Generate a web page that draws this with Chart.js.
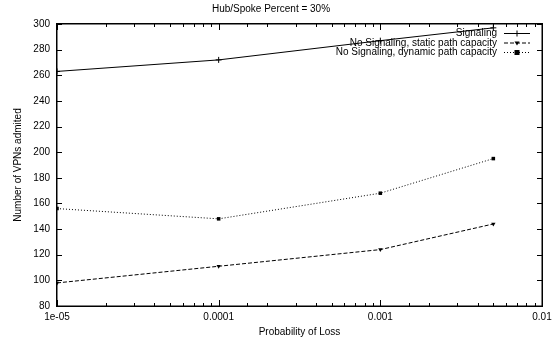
<!DOCTYPE html>
<html>
<head>
<meta charset="utf-8">
<script src="https://cdn.jsdelivr.net/npm/chart.js@4/dist/chart.umd.min.js"></script>
<style>
    body { margin: 0; background: #fff; }
</style>
</head>
<body>
<canvas id="vpnAdmitted" width="559" height="341"></canvas>
<script>
// Loss probabilities (x) and admitted VPN counts per scheme
var lossProb = [0.00001, 0.0001, 0.001, 0.005];
var signaling = [263, 272, 287, 297];
var staticCap = [98, 111, 124, 144];
var dynamicCap = [156, 148, 168, 195];
var seriesNames = ["Signaling", "No Signaling, static path capacity", "No Signaling, dynamic path capacity"];
var xTickValues = [0.00001, 0.0001, 0.001, 0.01];
var xTickLabels = ["1e-05", "0.0001", "0.001", "0.01"];

var FONT = "'Liberation Sans', Arial, sans-serif";

function pts(ys) {
    var out = [];
    for (var i = 0; i < lossProb.length; i++) {
        out.push({ x: lossProb[i], y: ys[i] });
    }
    return out;
}

function isDecade(v) {
    var l = Math.log10(v);
    return Math.abs(l - Math.round(l)) < 1e-9;
}

function drawMarker(ctx, kind, x, y) {
    ctx.beginPath();
    if (kind === "plus") {
        ctx.moveTo(x - 3, y); ctx.lineTo(x + 3, y);
        ctx.moveTo(x, y - 3); ctx.lineTo(x, y + 3);
        ctx.stroke();
    } else if (kind === "tri") {
        ctx.moveTo(x - 2.5, y - 1.5); ctx.lineTo(x + 2.5, y - 1.5); ctx.lineTo(x, y + 2.5);
        ctx.closePath(); ctx.fill();
    } else {
        ctx.fillRect(x - 2.5, y - 2.5, 5, 5);
    }
}

// key labels first, then the gnuplot style frame with inward ticks, then key samples
var gnuFrame = {
    id: "gnuFrame",
    afterDraw: function (chart) {
        var ctx = chart.ctx, a = chart.chartArea;
        var xs = chart.scales.x, ys = chart.scales.y;
        var L = Math.round(a.left), R = Math.round(a.right), T = Math.round(a.top), B = Math.round(a.bottom);
        var kinds = ["plus", "tri", "box"];
        ctx.save();
        ctx.setLineDash([]);
        ctx.globalAlpha = 1;
        ctx.fillStyle = "#000";
        ctx.strokeStyle = "#000";
        ctx.font = "10px " + FONT;
        ctx.textAlign = "right";
        ctx.textBaseline = "middle";
        chart.data.datasets.forEach(function (ds, i) {
            ctx.fillText(ds.label, R - 45, T + 9.5 + i * 9.5);
        });

        // frame as filled strips
        ctx.fillRect(L - 1, T - 1, R - L + 2, 1.5);
        ctx.fillRect(L - 1, B - 0.5, R - L + 2, 1.5);
        ctx.fillRect(L - 1, T - 1, 1.5, B - T + 2);
        ctx.fillRect(R - 0.5, T - 1, 1.5, B - T + 2);
        // inward tick marks, longer at the decades
        xs.ticks.forEach(function (t) {
            var px = Math.round(xs.getPixelForValue(t.value));
            var len = isDecade(t.value) ? 6 : 3;
            ctx.fillRect(px, B - len, 1, len);
            ctx.fillRect(px, T, 1, len);
        });
        ys.ticks.forEach(function (t) {
            var py = Math.round(ys.getPixelForValue(t.value));
            ctx.fillRect(L, py, 5, 1);
            ctx.fillRect(R - 5, py, 5, 1);
        });

        ctx.lineWidth = 1;
        chart.data.datasets.forEach(function (ds, i) {
            var y = T + 9.5 + i * 9.5;
            ctx.setLineDash(ds.borderDash || []);
            ctx.beginPath();
            ctx.moveTo(R - 38, y);
            ctx.lineTo(R - 12, y);
            ctx.stroke();
            ctx.setLineDash([]);
            drawMarker(ctx, kinds[i], R - 25, y);
        });
        ctx.restore();
    }
};

new Chart("vpnAdmitted", {
    type: "line",
    data: {
        datasets: [{
            label: seriesNames[0],
            data: pts(signaling),
            borderColor: "#000",
            backgroundColor: "#000",
            borderWidth: 1,
            pointStyle: "cross",
            pointRadius: 3,
            pointBorderWidth: 1,
            fill: false,
            tension: 0
        }, {
            label: seriesNames[1],
            data: pts(staticCap),
            borderColor: "#000",
            backgroundColor: "#000",
            borderWidth: 1,
            borderDash: [4, 2],
            pointStyle: "triangle",
            rotation: 180,
            pointRadius: 2.5,
            pointBorderWidth: 0,
            fill: false,
            tension: 0
        }, {
            label: seriesNames[2],
            data: pts(dynamicCap),
            borderColor: "#000",
            backgroundColor: "#000",
            borderWidth: 1,
            borderDash: [1, 2],
            pointStyle: "rect",
            pointRadius: 2.5,
            pointBorderWidth: 0,
            fill: false,
            tension: 0
        }]
    },
    options: {
        responsive: false,
        animation: false,
        layout: { padding: { top: 0, right: 17, bottom: 0, left: 0 } },
        plugins: {
            legend: { display: false },
            tooltip: { enabled: false },
            title: {
                display: true,
                text: "Hub/Spoke Percent = 30%",
                color: "#000",
                font: { family: FONT, size: 10, weight: "normal" },
                padding: { top: 3, bottom: 9 }
            }
        },
        scales: {
            x: {
                type: "logarithmic",
                min: 0.00001,
                max: 0.01,
                grid: { display: false, drawTicks: false },
                border: { display: false },
                ticks: {
                    color: "#000",
                    font: { family: FONT, size: 10 },
                    padding: 5,
                    autoSkip: false,
                    maxRotation: 0,
                    callback: function (v) {
                        for (var i = 0; i < xTickValues.length; i++) {
                            if (Math.abs(Math.log10(v) - Math.log10(xTickValues[i])) < 1e-6) return xTickLabels[i];
                        }
                        return "";
                    }
                },
                title: {
                    display: true,
                    text: "Probability of Loss",
                    color: "#000",
                    font: { family: FONT, size: 10 },
                    padding: { top: 0, bottom: 3 }
                },
                afterFit: function (s) { s.height = 35; }
            },
            y: {
                min: 80,
                max: 300,
                grid: { display: false, drawTicks: false },
                border: { display: false },
                ticks: {
                    stepSize: 20,
                    color: "#000",
                    font: { family: FONT, size: 10 },
                    padding: 7
                },
                title: {
                    display: true,
                    text: "Number of VPNs admited",
                    color: "#000",
                    font: { family: FONT, size: 10 },
                    padding: { top: 12, bottom: 0 }
                },
                afterFit: function (s) { s.width = 57; }
            }
        }
    },
    plugins: [gnuFrame]
});
</script>
</body>
</html>
